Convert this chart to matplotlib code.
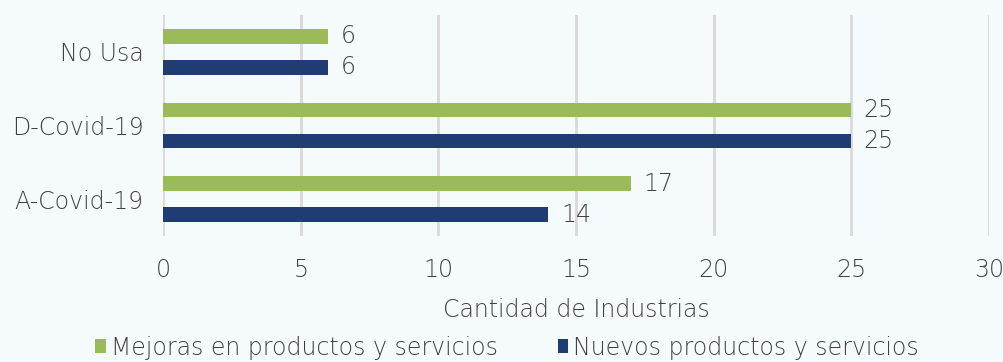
import matplotlib.pyplot as plt
import numpy as np

categories = ["A-Covid-19", "D-Covid-19", "No Usa"]
mejoras = [17, 25, 6]
nuevos = [14, 25, 6]
series_names = ["Mejoras en productos y servicios", "Nuevos productos y servicios"]
xticks = [0, 5, 10, 15, 20, 25, 30]

GREEN = "#9bbb59"
NAVY = "#1f3d72"
BG = "#f5fafd"
TEXT = "#404040"

plt.rcParams["font.family"] = ["DejaVu Sans"]
plt.rcParams["font.weight"] = "light"

fig = plt.figure(figsize=(10.04, 3.62), dpi=100, facecolor=BG)
ax = fig.add_axes([0.1624, 0.348, 0.8226, 0.6106], facecolor=BG)

y = np.arange(len(categories))
h = 0.2
off = 0.21
b1 = ax.barh(y + off, mejoras, height=h, color=GREEN, label=series_names[0], zorder=3)
b2 = ax.barh(y - off, nuevos, height=h, color=NAVY, label=series_names[1], zorder=3)

# value labels just past the bar ends
for bars, vals in ((b1, mejoras), (b2, nuevos)):
    for bar, v in zip(bars, vals):
        ax.annotate(str(v), (v, bar.get_y() + bar.get_height() / 2),
                    xytext=(9, 0), textcoords="offset points",
                    va="center", ha="left", fontsize=17, color=TEXT, fontweight="light")

ax.set_xlim(0, 30)
ax.set_ylim(-0.5, 2.5)
ax.set_xticks(xticks)
ax.set_yticks(y)
ax.set_yticklabels(categories)
ax.tick_params(length=0, labelsize=17, labelcolor=TEXT, pad=14)
ax.tick_params(axis="x", pad=16)
ax.grid(axis="x", color="#d9d9d9", linewidth=2, zorder=0)
for s in ax.spines.values():
    s.set_visible(False)
ax.set_xlabel("Cantidad de Industrias", fontsize=17, color=TEXT, labelpad=11,
              fontweight="light")

fig.legend(handles=[b1, b2], loc="lower center", bbox_to_anchor=(0.505, -0.052),
           ncol=2, frameon=False, handlelength=0.45, handleheight=0.55,
           handletextpad=0.2, columnspacing=2.55, labelcolor=TEXT,
           prop={"weight": "light", "size": 17})

fig.savefig("out.png", dpi=100, facecolor=BG)
